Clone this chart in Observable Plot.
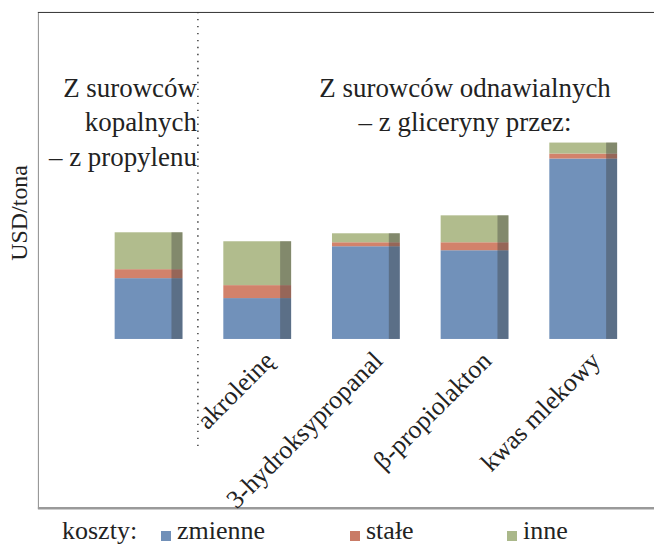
<!DOCTYPE html>
<html>
<head>
<meta charset="utf-8">
<script src="https://cdn.jsdelivr.net/npm/d3@7"></script>
<script src="https://cdn.jsdelivr.net/npm/@observablehq/plot@0.6"></script>
<style>
  html, body { margin: 0; padding: 0; background: #fff; overflow: hidden; }
  #wrap { width: 654px; height: 549px; position: relative; overflow: hidden; }
  #legend { position: relative; width: 654px; height: 33px; font-family: "Liberation Serif", serif; font-size: 26px; color: #222; }
  #legend span.t { position: absolute; top: 4px; line-height: 1; white-space: nowrap; }
  #legend span.sw { position: absolute; top: 17px; width: 10px; height: 10px; }
</style>
</head>
<body>
<div id="wrap"><div id="chart"></div><div id="legend"></div></div>
<script>
// ---- data ----
const categories = ["propylen", "akroleinę", "3-hydroksypropanal", "β-propiolakton", "kwas mlekowy"];
const tickLabels = ["", "akroleinę", "3-hydroksypropanal", "β-propiolakton", "kwas mlekowy"];
const seriesNames = ["zmienne", "stałe", "inne"];
const zmienne = [610, 410, 930, 890, 1810];
const stale   = [90, 130, 40, 80, 50];
const inne    = [370, 440, 90, 270, 110];
const seriesColors = ["#7191ba", "#d2826b", "#b1bc8d"];
const legendColors = ["#7190b8", "#c97b66", "#aab88a"];
const fossilNote = "Z surowców\nkopalnych\n– z propylenu";
const renewableNote = "Z surowców odnawialnych\n– z gliceryny przez:";
const yLabel = "USD/tona";
const legendTitle = "koszty:";

// ---- table built from the arrays ----
const valuesBySeries = [zmienne, stale, inne];
const rows = [];
categories.forEach((c, i) => {
  seriesNames.forEach((s, j) => rows.push({cat: c, series: s, value: valuesBySeries[j][i]}));
});
const totals = categories.map((c, i) => ({cat: c, total: zmienne[i] + stale[i] + inne[i]}));
const labelRows = categories.map((c, i) => ({cat: c, label: tickLabels[i]}));

const yTop = 3280, yBottom = -1700;
const font = "Liberation Serif";

const chart = Plot.plot({
  width: 656,
  height: 516,
  marginLeft: 38,
  marginRight: 0,
  marginTop: 12,
  marginBottom: 6,
  style: {fontFamily: font, color: "#222", background: "transparent", overflow: "visible"},
  x: {type: "band", domain: categories, range: [114, 620], paddingInner: 0.38, paddingOuter: 0, axis: null},
  y: {domain: [yBottom, yTop], axis: null},
  color: {domain: seriesNames, range: seriesColors},
  marks: [
    Plot.frame({stroke: "#8c8c8c", strokeWidth: 1}),
    Plot.ruleY([yTop], {stroke: "#3a3a3a", strokeWidth: 1}),
    Plot.ruleY([yBottom], {stroke: "#9a9a9a", strokeWidth: 2, dy: -1}),
    Plot.barY(rows, {x: "cat", y: "value", fill: "series"}),
    Plot.barY(totals, {x: "cat", y: "total", fill: "#3c3c3c", fillOpacity: 0.4, insetLeft: 57}),
    Plot.ruleX([categories[0]], {x: d => d, y1: yTop, y2: -1080, dx: 49, stroke: "#333", strokeWidth: 1.4, strokeDasharray: "1.4 5.6"}),
    Plot.text(labelRows, {x: "cat", y: d => 0, text: "label", rotate: -45, textAnchor: "end", dx: 12, dy: 17, fontSize: 26, fill: "#222"}),
    Plot.text([fossilNote], {x: d => categories[0], frameAnchor: "top", text: d => d, textAnchor: "end", lineAnchor: "top", lineHeight: 1.28, dx: 48, dy: 60, fontSize: 27, fill: "#222"}),
    Plot.text([renewableNote], {x: d => categories[3], frameAnchor: "top", text: d => d, textAnchor: "middle", lineAnchor: "top", lineHeight: 1.28, dx: -10, dy: 60, fontSize: 27, fill: "#222"}),
    Plot.text([yLabel], {frameAnchor: "left", text: d => d, rotate: -90, dx: -19, fontSize: 24, fill: "#222"})
  ]
});
document.getElementById("chart").appendChild(chart);

// ---- legend ----
const legend = document.getElementById("legend");
const t0 = document.createElement("span");
t0.className = "t"; t0.style.left = "62px"; t0.textContent = legendTitle;
legend.appendChild(t0);
const itemLeft = [161, 350, 507];
seriesNames.forEach((s, i) => {
  const sw = document.createElement("span");
  sw.className = "sw"; sw.style.left = itemLeft[i] + "px"; sw.style.background = legendColors[i];
  legend.appendChild(sw);
  const t = document.createElement("span");
  t.className = "t"; t.style.left = (itemLeft[i] + 16) + "px"; t.textContent = s;
  legend.appendChild(t);
});
</script>
</body>
</html>
